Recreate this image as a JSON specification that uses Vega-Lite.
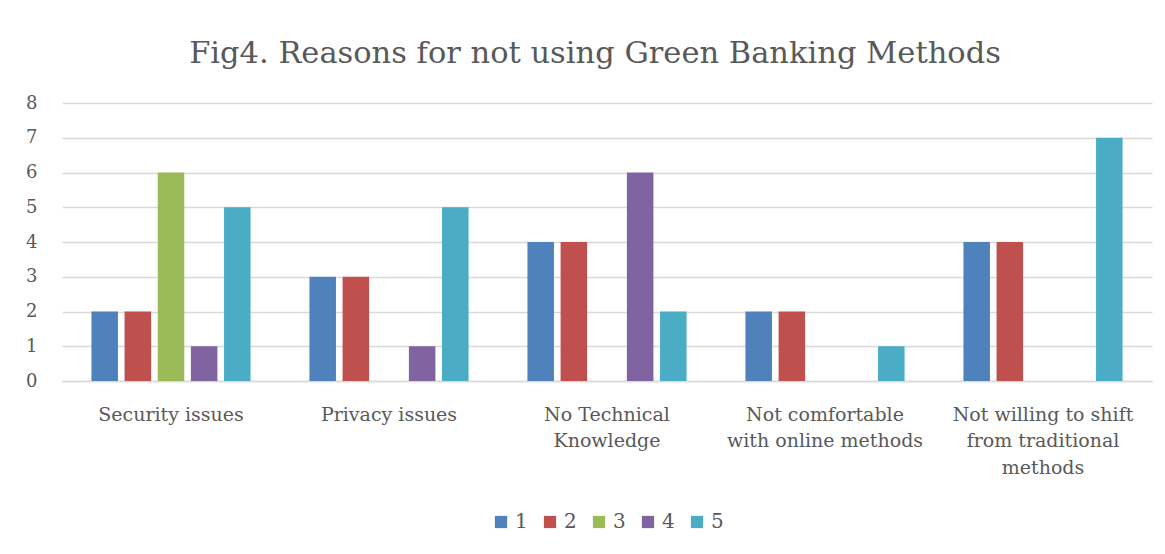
{
  "$schema": "https://vega.github.io/schema/vega-lite/v6.json",
  "autosize": "none",
  "width": 1090,
  "height": 278,
  "padding": {"left": 62, "top": 103, "right": 13, "bottom": 173},
  "background": "white",
  "title": {
    "text": "Fig4. Reasons for not using Green Banking Methods",
    "font": "DejaVu Serif",
    "fontSize": 30.5,
    "fontWeight": "normal",
    "color": "#595959",
    "anchor": "middle",
    "dx": -12,
    "offset": 25
  },
  "data": {
    "values": [
      {"reason": "Security issues", "series": "1", "count": 2},
      {"reason": "Security issues", "series": "2", "count": 2},
      {"reason": "Security issues", "series": "3", "count": 6},
      {"reason": "Security issues", "series": "4", "count": 1},
      {"reason": "Security issues", "series": "5", "count": 5},
      {"reason": "Privacy issues", "series": "1", "count": 3},
      {"reason": "Privacy issues", "series": "2", "count": 3},
      {"reason": "Privacy issues", "series": "4", "count": 1},
      {"reason": "Privacy issues", "series": "5", "count": 5},
      {"reason": "No Technical Knowledge", "series": "1", "count": 4},
      {"reason": "No Technical Knowledge", "series": "2", "count": 4},
      {"reason": "No Technical Knowledge", "series": "4", "count": 6},
      {"reason": "No Technical Knowledge", "series": "5", "count": 2},
      {"reason": "Not comfortable with online methods", "series": "1", "count": 2},
      {"reason": "Not comfortable with online methods", "series": "2", "count": 2},
      {"reason": "Not comfortable with online methods", "series": "5", "count": 1},
      {"reason": "Not willing to shift from traditional methods", "series": "1", "count": 4},
      {"reason": "Not willing to shift from traditional methods", "series": "2", "count": 4},
      {"reason": "Not willing to shift from traditional methods", "series": "5", "count": 7}
    ]
  },
  "mark": {"type": "bar"},
  "encoding": {
    "x": {
      "field": "reason",
      "type": "nominal",
      "sort": null,
      "scale": {
        "domain": ["Security issues", "Privacy issues", "No Technical Knowledge", "Not comfortable with online methods", "Not willing to shift from traditional methods"],
        "paddingInner": 0.27,
        "paddingOuter": 0.135
      },
      "axis": {
        "title": null,
        "labelAngle": 0,
        "labelFont": "DejaVu Serif",
        "labelFontSize": 19,
        "labelColor": "#595959",
        "labelLineHeight": 26.5,
        "labelPadding": 33,
        "labelBaseline": "middle",
        "labelLimit": 400,
        "ticks": false,
        "domainColor": "#d9d9d9",
        "domainWidth": 1.5,
        "labelExpr": "datum.label == 'No Technical Knowledge' ? ['No Technical', 'Knowledge'] : datum.label == 'Not comfortable with online methods' ? ['Not comfortable', 'with online methods'] : datum.label == 'Not willing to shift from traditional methods' ? ['Not willing to shift', 'from traditional', 'methods'] : datum.label"
      }
    },
    "xOffset": {
      "field": "series",
      "type": "nominal",
      "scale": {"domain": ["1", "2", "3", "4", "5"], "paddingInner": 0.2, "paddingOuter": 0}
    },
    "y": {
      "field": "count",
      "type": "quantitative",
      "scale": {"domain": [0, 8]},
      "axis": {
        "title": null,
        "values": [0, 1, 2, 3, 4, 5, 6, 7, 8],
        "labelOverlap": false,
        "labelFont": "DejaVu Serif",
        "labelFontSize": 18,
        "labelColor": "#595959",
        "labelPadding": 25,
        "ticks": false,
        "domain": false,
        "gridColor": "#d9d9d9",
        "gridWidth": 1.5
      }
    },
    "color": {
      "field": "series",
      "type": "nominal",
      "scale": {
        "domain": ["1", "2", "3", "4", "5"],
        "range": ["#4F81BD", "#C0504D", "#9BBB59", "#8064A2", "#4BACC6"]
      },
      "legend": {
        "title": null,
        "orient": "bottom",
        "direction": "horizontal",
        "symbolType": "square",
        "symbolSize": 150,
        "symbolStrokeWidth": 0,
        "labelFont": "DejaVu Serif",
        "labelFontSize": 20,
        "labelColor": "#595959",
        "columnPadding": 12,
        "labelOffset": 4,
        "offset": 35
      }
    }
  },
  "config": {
    "view": {"stroke": null},
    "legend": {"layout": {"bottom": {"anchor": "middle"}}}
  }
}
